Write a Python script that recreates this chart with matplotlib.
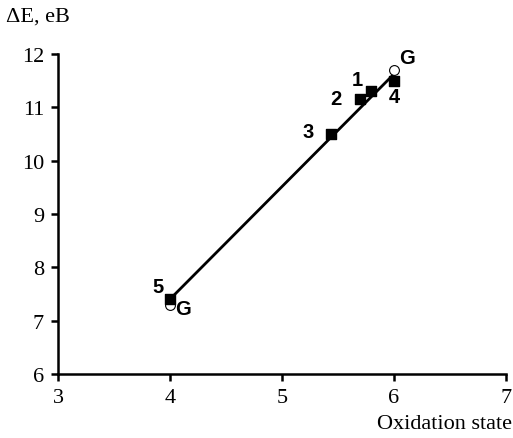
import matplotlib.pyplot as plt

# data
pt_labels = ["1", "2", "3", "4", "5"]
pt_x = [5.8, 5.7, 5.44, 6.0, 4.0]
pt_y = [11.3, 11.15, 10.5, 11.5, 7.4]
g_x = [4.0, 6.0]
g_y = [7.3, 11.7]
line_x = [4.0, 6.0]
line_y = [7.4, 11.62]

# label offsets in pixels
pt_offsets = [(-14, 12), (-24, 1), (-23, 2), (0, -16), (-12, 13)]
g_offsets = [(13, -4), (13, 12)]

fig = plt.figure(figsize=(5.13, 4.39), dpi=100)
ax = fig.add_axes([0.113, 0.146, 0.873, 0.729])

ax.plot(line_x, line_y, color="black", lw=2, zorder=2)
ax.scatter(g_x, g_y, s=50, facecolor="white", edgecolor="black", lw=0.8, zorder=3)
ax.scatter(pt_x, pt_y, s=50, marker="s", color="black", zorder=4)

bold = dict(fontfamily="Liberation Sans", fontweight="bold", fontsize=14.5,
            ha="center", va="center", textcoords="offset pixels")
for lab, x, y, off in zip(pt_labels, pt_x, pt_y, pt_offsets):
    ax.annotate(lab, (x, y), xytext=off, **bold)
for x, y, off in zip(g_x, g_y, g_offsets):
    ax.annotate("G", (x, y), xytext=off, **bold)

ax.set_xlim(3, 7)
ax.set_ylim(6, 12)
ax.set_xticks([3, 4, 5, 6, 7])
ax.set_yticks([6, 7, 8, 9, 10, 11, 12])
ax.spines["top"].set_visible(False)
ax.spines["right"].set_visible(False)
for s in ["left", "bottom"]:
    ax.spines[s].set_linewidth(1.8)
ax.tick_params(direction="out", length=5, width=1.8, labelsize=16, pad=5)
for t in ax.get_xticklabels() + ax.get_yticklabels():
    t.set_fontfamily("Liberation Serif")

fig.text(0.012, 0.962, "ΔE, eB", fontfamily="Liberation Serif", fontsize=16,
         ha="left", va="center")
fig.text(0.998, 0.012, "Oxidation state", fontfamily="Liberation Serif",
         fontsize=16, ha="right", va="bottom")

fig.savefig("out.png", dpi=100)
